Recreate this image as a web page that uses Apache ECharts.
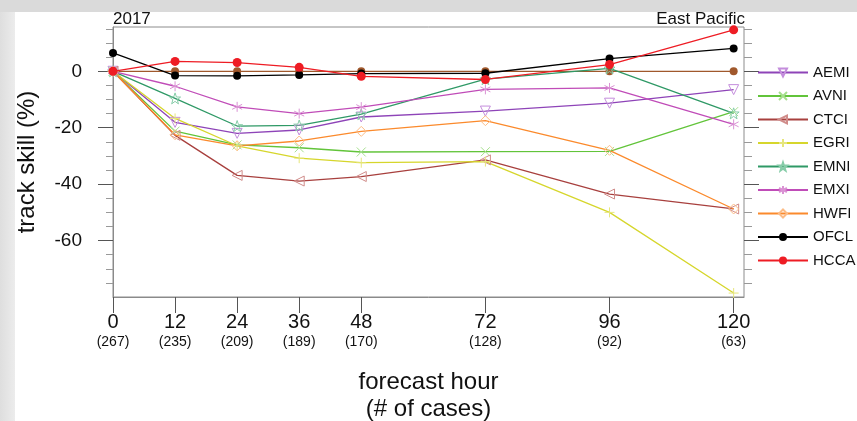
<!DOCTYPE html>
<html>
<head>
<meta charset="utf-8">
<script src="https://cdn.jsdelivr.net/npm/echarts@6/dist/echarts.min.js"></script>
<style>
  html, body { margin: 0; padding: 0; }
  body { width: 857px; height: 421px; position: relative; overflow: hidden;
         background: linear-gradient(to right, #dedede, #ececec 15px); }
  #topband { position: absolute; left: 0; top: 0; width: 857px; height: 12px; background: #dadada; }
  #panel { position: absolute; left: 15px; top: 12px; width: 842px; height: 409px; background: #ffffff; }
  #chart { position: absolute; left: 0; top: 0; width: 857px; height: 421px; }
</style>
</head>
<body>
<div id="topband"></div>
<div id="panel"></div>
<div id="chart"></div>
<script>
// Forecast hours and number of verifying cases
const hours = [0, 12, 24, 36, 48, 72, 96, 120];
const cases = [267, 235, 209, 189, 170, 128, 92, 63];

// Track skill (%) relative to the baseline, per model
const AEMI = [0, -18.1, -22.0, -20.8, -16.2, -14.1, -11.3, -6.5];
const AVNI = [0, -21.2, -26.1, -27.1, -28.6, -28.5, -28.4, -14.3];
const CTCI = [0, -22.7, -36.9, -38.9, -37.3, -31.4, -43.5, -48.8];
const EGRI = [0, -16.7, -26.4, -30.8, -32.4, -32.0, -50.0, -78.6];
const EMNI = [0, -9.6, -19.4, -19.2, -15.2, -2.8, 1.0, -14.9];
const EMXI = [0, -5.3, -12.6, -15.0, -12.7, -6.4, -5.9, -18.8];
const HWFI = [0, -22.5, -26.4, -24.7, -21.3, -17.5, -28.0, -48.8];
const OFCL = [6.5, -1.5, -1.6, -1.3, -0.8, -0.7, 4.5, 8.1];
const HCCA = [0, 3.5, 3.1, 1.4, -1.8, -2.9, 2.4, 14.7];
const BASE = [0, 0, 0, 0, 0, 0, 0, 0];

// Axis tick positions
const yMajor = [0, -20, -40, -60];
const yMinor = [15, 10, 5, -5, -10, -15, -25, -30, -35, -45, -50, -55, -65, -70, -75];

const FONT = "'Liberation Sans', Arial, Helvetica, sans-serif";

const pts = arr => arr.map((v, i) => [hours[i], v]);

const SYM = {
  downTri: 'path://M0,0L10,0L5,9Z',
  cross: 'path://M0,0L10,10M10,0L0,10',
  leftTri: 'path://M0,4.5L9,0L9,9Z',
  plus: 'path://M5,0L5,10M0,5L10,5',
  star: 'path://M5,0L6.18,3.38L9.76,3.45L6.9,5.62L7.94,9.05L5,7L2.06,9.05L3.1,5.62L0.24,3.45L3.82,3.38Z',
  asterisk: 'path://M5,0L5,10M0.67,2.5L9.33,7.5M0.67,7.5L9.33,2.5',
  diamond: 'path://M5,0L10,5L5,10L0,5Z'
};

function hollow(name, data, line, mark, symbol, size) {
  return {
    name, type: 'line', data: pts(data),
    symbol, symbolSize: size, showAllSymbol: true,
    lineStyle: { color: line, width: 1.3 },
    itemStyle: { color: 'rgba(0,0,0,0)', borderColor: mark, borderWidth: 1 },
    emphasis: { disabled: true }, z: 3
  };
}
function filled(name, data, color, size, z) {
  return {
    name, type: 'line', data: pts(data),
    symbol: 'circle', symbolSize: size, showAllSymbol: true,
    lineStyle: { color, width: 1.3 },
    itemStyle: { color, borderWidth: 0 },
    emphasis: { disabled: true }, z
  };
}

function yAx(pos, ticks, len, color, labels) {
  return {
    type: 'value', position: pos, min: -80, max: 15.7,
    axisLine: { show: pos === 'left' && labels, onZero: false,
                lineStyle: { color: '#8a8a8a', width: 1 } },
    axisTick: { show: true, customValues: ticks, length: len, inside: false,
                lineStyle: { color, width: 1 } },
    axisLabel: labels ? { show: true, customValues: yMajor, margin: 31,
                fontSize: 19, color: '#111', fontFamily: FONT } : { show: false },
    splitLine: { show: false },
    name: labels ? 'track skill (%)' : '',
    nameLocation: 'middle', nameGap: 74, nameRotate: 90,
    nameTextStyle: { fontSize: 24, color: '#111', fontFamily: FONT }
  };
}

const chart = echarts.init(document.getElementById('chart'), null, { renderer: 'canvas' });

chart.setOption({
  animation: false,
  backgroundColor: 'transparent',
  grid: { left: 113, right: 113, top: 27, height: 270, show: true,
          containLabel: false, outerBoundsMode: 'none',
          borderColor: '#8c8c8c', borderWidth: 1, backgroundColor: 'transparent' },
  xAxis: {
    type: 'value', min: 0, max: 122, position: 'bottom',
    axisLine: { show: true, onZero: false, lineStyle: { color: '#8a8a8a', width: 1 } },
    axisTick: { show: true, customValues: hours, length: 16, lineStyle: { color: '#555' } },
    axisLabel: {
      show: true, customValues: hours, margin: 14, fontFamily: FONT,
      formatter: v => '{h|' + v + '}\n{n|(' + cases[hours.indexOf(v)] + ')}',
      rich: {
        h: { fontSize: 20, lineHeight: 22, color: '#111', fontFamily: FONT },
        n: { fontSize: 14, lineHeight: 18, color: '#111', fontFamily: FONT }
      }
    },
    splitLine: { show: false },
    name: 'forecast hour\n(# of cases)', nameLocation: 'middle', nameGap: 72,
    nameTextStyle: { fontSize: 24, lineHeight: 27, color: '#111', fontFamily: FONT }
  },
  yAxis: [
    yAx('left', yMajor, 15, '#555', true),
    yAx('left', yMinor, 7, '#999', false),
    yAx('right', yMajor, 15, '#555', false),
    yAx('right', yMinor, 8, '#999', false)
  ],
  legend: {
    orient: 'vertical', left: 757, top: 65, padding: 0,
    itemWidth: 50, itemHeight: 10, itemGap: 8.5,
    selectedMode: false,
    textStyle: { fontSize: 15, color: '#111', fontFamily: FONT },
    data: ['AEMI', 'AVNI', 'CTCI', 'EGRI', 'EMNI', 'EMXI', 'HWFI', 'OFCL', 'HCCA']
  },
  graphic: [
    { type: 'text', left: 113, top: 11,
      style: { text: '2017', fontSize: 17, fill: '#111', fontFamily: FONT } },
    { type: 'text', right: 112, top: 11,
      style: { text: 'East Pacific', fontSize: 17, fill: '#111', fontFamily: FONT } }
  ],
  series: [
    filled('CLP5', BASE, '#a0582c', 8, 2),
    hollow('AEMI', AEMI, '#8e44b8', '#c48ddc', SYM.downTri, 10),
    hollow('AVNI', AVNI, '#62c43a', '#a6df8e', SYM.cross, 9),
    hollow('CTCI', CTCI, '#a8403e', '#d08c8a', SYM.leftTri, 10),
    hollow('EGRI', EGRI, '#d6d62c', '#e6e67c', SYM.plus, 10),
    hollow('EMNI', EMNI, '#2f9966', '#86cca8', SYM.star, 11),
    hollow('EMXI', EMXI, '#c04cb8', '#da92d4', SYM.asterisk, 10),
    hollow('HWFI', HWFI, '#fb8a2c', '#fcbc86', SYM.diamond, 10),
    filled('OFCL', OFCL, '#000000', 8, 4),
    filled('HCCA', HCCA, '#ee1c24', 9, 5)
  ]
});
</script>
</body>
</html>
